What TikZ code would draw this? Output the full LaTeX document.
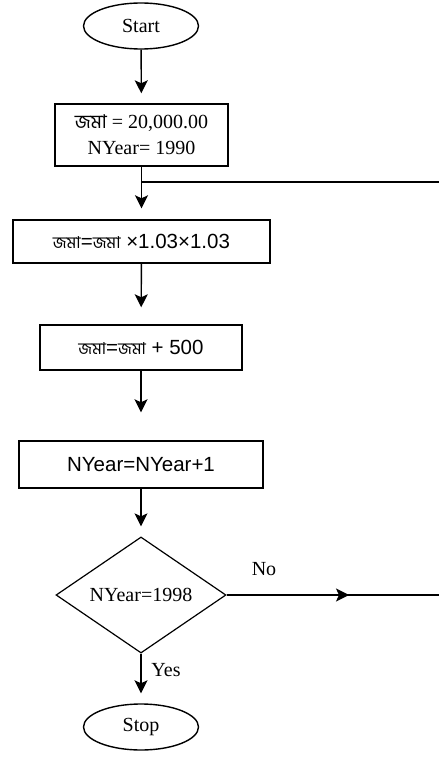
\documentclass[tikz,border=0pt]{standalone}
\usepackage{fontspec}
\setmainfont{Liberation Serif}
\newfontfamily\lsans{Liberation Sans}
\newfontfamily\bn[Script=Bengali,Scale=0.8]{Hind Siliguri}
\newfontfamily\bnb[Script=Bengali,Scale=0.95]{Hind Siliguri}
\usetikzlibrary{shapes.geometric,arrows.meta}
\begin{document}
\begin{tikzpicture}[x=1pt,y=-1pt,
  every node/.style={font=\fontsize{20pt}{26pt}\selectfont},
  terminal/.style={draw,ellipse,line width=1.4pt,minimum width=115pt,minimum height=46pt,inner sep=0pt},
  procbox/.style={draw,rectangle,line width=1.4pt,inner sep=0pt,align=center},
  decide/.style={draw,diamond,line width=1.2pt,minimum width=170pt,minimum height=110pt,inner sep=0pt},
  flow/.style={line width=1.4pt,-{Stealth[length=13pt,width=13pt,inset=3pt]}},
  plain/.style={line width=1.4pt},
  lbl/.style={inner sep=0pt}]
\useasboundingbox (0,0) rectangle (439,757);
\node[terminal] (start) at (141,26) {Start};
\node[procbox,minimum width=173pt,minimum height=62pt] (b1) at (141.5,135)
  {{\bnb জমা} = 20,000.00\\NYear= 1990};
\node[procbox,minimum width=257pt,minimum height=43pt] (b2) at (141.5,241.5)
  {\lsans\fontsize{20.5pt}{26pt}\selectfont{\bn জমা}={\bn জমা} ×1.03×1.03};
\node[procbox,minimum width=202pt,minimum height=45pt] (b3) at (141,347.5)
  {\lsans\fontsize{20.5pt}{26pt}\selectfont{\bn জমা}={\bn জমা} + 500};
\node[procbox,minimum width=244pt,minimum height=47pt] (b4) at (141,464.5)
  {\lsans\fontsize{20.5pt}{26pt}\selectfont NYear=NYear+1};
\node[decide] (d) at (141,595) {NYear=1998};
\node[terminal] (stop) at (141,727) {Stop};
\coordinate (join) at (141,182);
\coordinate (loopend) at (439,182);
\coordinate (nomid) at (349,595);
\coordinate (noend) at (439,595);
\draw[flow,shorten >=10pt] (start) -- (b1);
\draw[flow,shorten >=11pt] (b1) -- (b2);
\draw[plain] (join) -- (loopend);
\draw[flow,shorten >=17pt] (b2) -- (b3);
\draw[flow,shorten >=28pt] (b3) -- (b4);
\draw[flow,shorten >=10pt] (b4) -- (d);
\draw[flow,shorten >=10pt] (d.south) -- (stop);
\draw[plain] (d.east) -- (noend);
\draw[flow] (d.east) -- (nomid);
\node[lbl] (no) at (264,569) {No};
\node[lbl] (yes) at (166,670) {Yes};
\end{tikzpicture}
\end{document}
